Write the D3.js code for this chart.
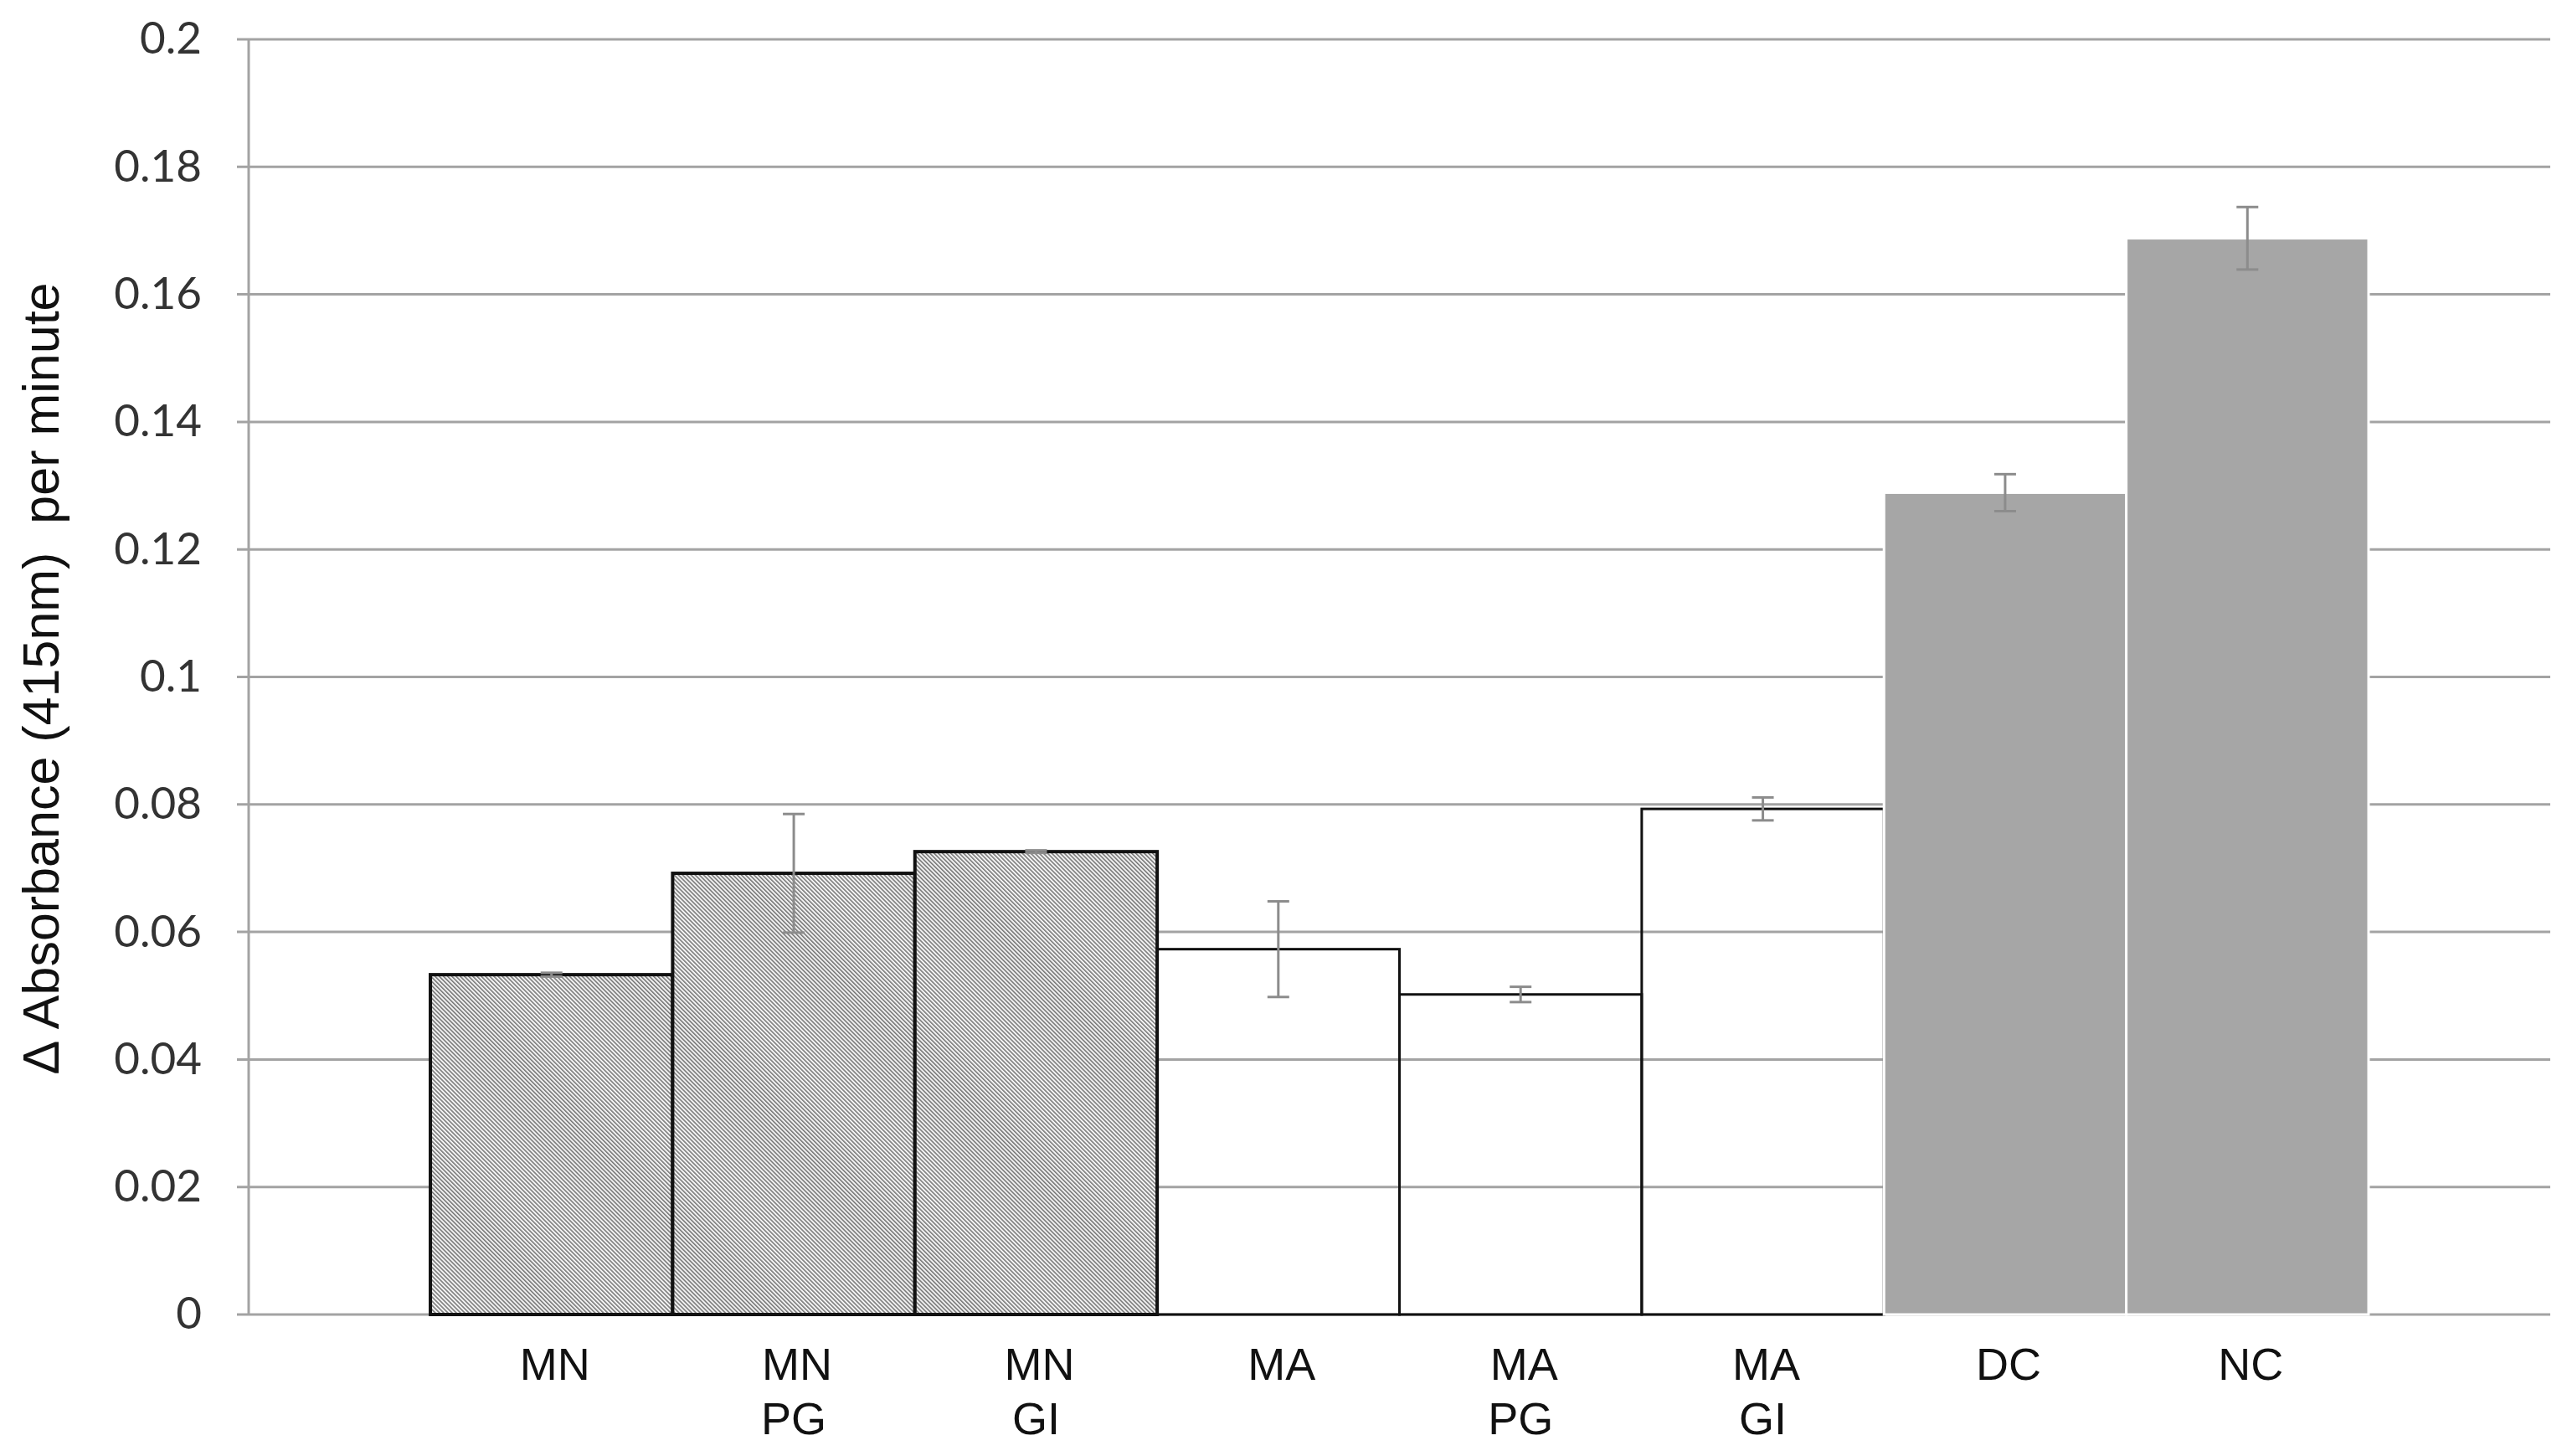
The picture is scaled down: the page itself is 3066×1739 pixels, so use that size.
<!DOCTYPE html>
<html>
<head>
<meta charset="utf-8">
<script src="https://cdn.jsdelivr.net/npm/d3@7"></script>
<style>
  html, body { margin: 0; padding: 0; background: #ffffff; }
  svg { display: block; }
</style>
</head>
<body>
<svg id="chart" width="3066" height="1739"></svg>
<script>
// ---- data ----
const categories = ["MN", "MN PG", "MN GI", "MA", "MA PG", "MA GI", "DC", "NC"];
const labelLine1 = ["MN", "MN", "MN", "MA", "MA", "MA", "DC", "NC"];
const labelLine2 = ["", "PG", "GI", "", "PG", "GI", "", ""];
const values = [0.0533, 0.0692, 0.0726, 0.0573, 0.0502, 0.0793, 0.1289, 0.1688];
const errors = [0.0003, 0.0093, 0.0002, 0.0075, 0.0012, 0.0018, 0.0029, 0.0049];
const groups = ["hatch", "hatch", "hatch", "open", "open", "open", "solid", "solid"];
const yTicks = [0, 0.02, 0.04, 0.06, 0.08, 0.1, 0.12, 0.14, 0.16, 0.18, 0.2];
const yTitle = "\u0394 Absorbance (415nm)  per minute";

// ---- layout ----
const plotLeft = 297, plotRight = 3046, plotTop = 47, plotBottom = 1570;

const svg = d3.select("#chart");

const defs = svg.append("defs");
const pat = defs.append("pattern")
  .attr("id", "hatch")
  .attr("patternUnits", "userSpaceOnUse")
  .attr("width", 3.55).attr("height", 10)
  .attr("patternTransform", "rotate(-45)");
pat.append("rect").attr("width", 3.55).attr("height", 10).attr("fill", "#f4f4f4");
pat.append("rect").attr("width", 1.6).attr("height", 10).attr("fill", "#7a7a7a");

const x = d3.scaleBand().domain(categories).range([plotLeft, plotRight])
  .paddingInner(0).paddingOuter(0.75);
const y = d3.scaleLinear().domain([0, 0.2]).range([plotBottom, plotTop]);

// gridlines
svg.append("g").selectAll("line").data(yTicks).join("line")
  .attr("x1", plotLeft - 14).attr("x2", plotRight)
  .attr("y1", d => y(d)).attr("y2", d => y(d))
  .attr("stroke", "#a3a3a3").attr("stroke-width", 3);

// y axis line
svg.append("line").attr("x1", plotLeft).attr("x2", plotLeft)
  .attr("y1", y(0.2)).attr("y2", y(0))
  .attr("stroke", "#a3a3a3").attr("stroke-width", 3);

// y axis labels
const yAxis = d3.axisLeft(y).tickValues(yTicks)
  .tickFormat(d => d === 0 ? "0" : String(+d.toFixed(2)))
  .tickSize(0).tickPadding(56);
const gy = svg.append("g").attr("transform", `translate(${plotLeft},0)`).call(yAxis);
gy.select(".domain").remove();
gy.selectAll("text")
  .attr("font-family", "Lato, 'Open Sans', sans-serif")
  .attr("font-size", 53)
  .attr("fill", "#333333");

// bars
const data = categories.map((c, i) => ({c, v: values[i], e: errors[i], g: groups[i]}));

svg.append("g").selectAll("rect").data(data).join("rect")
  .attr("x", d => x(d.c))
  .attr("y", d => y(d.v))
  .attr("width", x.bandwidth())
  .attr("height", d => y(0) - y(d.v))
  .attr("fill", d => d.g === "hatch" ? "url(#hatch)" : d.g === "solid" ? "#a6a6a6" : "none")
  .attr("stroke", d => d.g === "solid" ? "#ffffff" : "#111111")
  .attr("stroke-width", d => d.g === "hatch" ? 4 : 3);

// error bars
const eb = svg.append("g").attr("stroke", "#8c8c8c").attr("stroke-width", 3);
const cap = 13;
const cx = d => x(d.c) + x.bandwidth() / 2;
eb.selectAll("line.v").data(data).join("line").attr("class", "v")
  .attr("x1", cx).attr("x2", cx)
  .attr("y1", d => y(d.v + d.e)).attr("y2", d => y(d.v - d.e));
eb.selectAll("line.t").data(data).join("line").attr("class", "t")
  .attr("x1", d => cx(d) - cap).attr("x2", d => cx(d) + cap)
  .attr("y1", d => y(d.v + d.e)).attr("y2", d => y(d.v + d.e));
eb.selectAll("line.b").data(data).join("line").attr("class", "b")
  .attr("x1", d => cx(d) - cap).attr("x2", d => cx(d) + cap)
  .attr("y1", d => y(d.v - d.e)).attr("y2", d => y(d.v - d.e));

// x axis labels
const xAxis = d3.axisBottom(x).tickSize(0).tickPadding(0).tickFormat(() => "");
const gx = svg.append("g").attr("transform", `translate(0,${plotBottom})`).call(xAxis);
gx.select(".domain").remove();
gx.selectAll(".tick text").each(function(d) {
  const t = d3.select(this)
    .attr("font-family", "'Liberation Sans', Arial, sans-serif")
    .attr("font-size", 54)
    .attr("fill", "#111111")
    .attr("y", 0).attr("dy", null);
  const idx = categories.indexOf(d);
  t.append("tspan").attr("x", 4).attr("y", 78).text(labelLine1[idx]);
  if (labelLine2[idx]) t.append("tspan").attr("x", 0).attr("y", 143).text(labelLine2[idx]);
});

// y title
svg.append("text")
  .attr("transform", `translate(70,${(plotTop + plotBottom) / 2 + 2}) rotate(-90)`)
  .attr("text-anchor", "middle")
  .attr("font-family", "'Liberation Sans', Arial, sans-serif")
  .attr("font-size", 61)
  .attr("fill", "#111111")
  .style("white-space", "pre")
  .text(yTitle);
</script>
</body>
</html>
